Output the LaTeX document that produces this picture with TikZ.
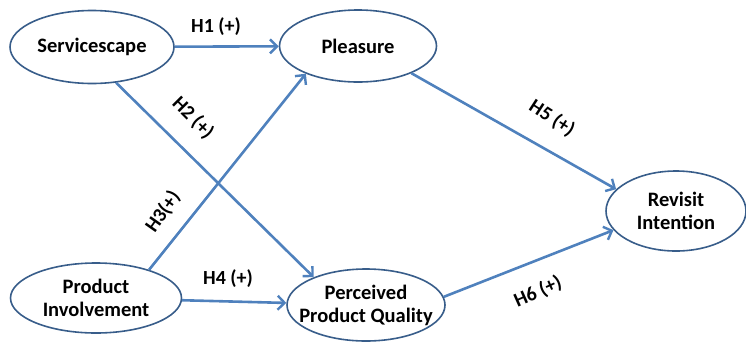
\documentclass[tikz,border=0pt]{standalone}
\usepackage{fontspec}
\setmainfont{Carlito}
\usetikzlibrary{shapes.geometric,arrows.meta}
\definecolor{edgeblue}{HTML}{4F81BD}
\definecolor{rimblue}{HTML}{385D8A}
\tikzset{
  construct/.style={ellipse,draw=rimblue,line width=1.6pt,fill=white,inner sep=-20pt,
    font=\fontsize{20.5}{23}\selectfont\bfseries,align=center},
  link/.style={draw=edgeblue,line width=2.6pt,-{Straight Barb[length=7pt,width=14pt,line width=2.4pt]}},
  hyp/.style={font=\fontsize{20}{22}\selectfont\bfseries,inner sep=1pt}
}
\begin{document}
\begin{tikzpicture}[x=1pt,y=-1pt]
\useasboundingbox (0,0) rectangle (746,341);
\node[construct,minimum width=164pt,minimum height=73pt] (serv) at (92,47) {Servicescape};
\node[construct,minimum width=157pt,minimum height=72pt] (plea) at (358,46) {Pleasure};
\node[construct,minimum width=171pt,minimum height=70pt] (prod) at (96,298) {Product\\Involvement};
\node[construct,minimum width=158pt,minimum height=72pt] (qual) at (366,305) {Perceived\\Product Quality};
\node[construct,minimum width=140pt,minimum height=80pt] (revi) at (676,211) {Revisit\\Intention};

\draw[link] (serv) -- (plea);
\draw[link] (serv.-56) -- (qual.152);
\draw[link] (prod.28) -- (plea.-152);
\draw[link] (prod) -- (qual);
\draw[link] (plea.-27) -- (revi.160);
\draw[link] (qual.6) -- (revi.-163);

\node[hyp] (h1) at (216,27) {H1 (+)};
\node[hyp,rotate=-45] (h2) at (193,118) {H2 (+)};
\node[hyp,rotate=55] (h3) at (163,212) {H3(+)};
\node[hyp] (h4) at (228,279) {H4 (+)};
\node[hyp,rotate=-33] (h5) at (552,118) {H5 (+)};
\node[hyp,rotate=24] (h6) at (538,292) {H6 (+)};
\end{tikzpicture}
\end{document}
